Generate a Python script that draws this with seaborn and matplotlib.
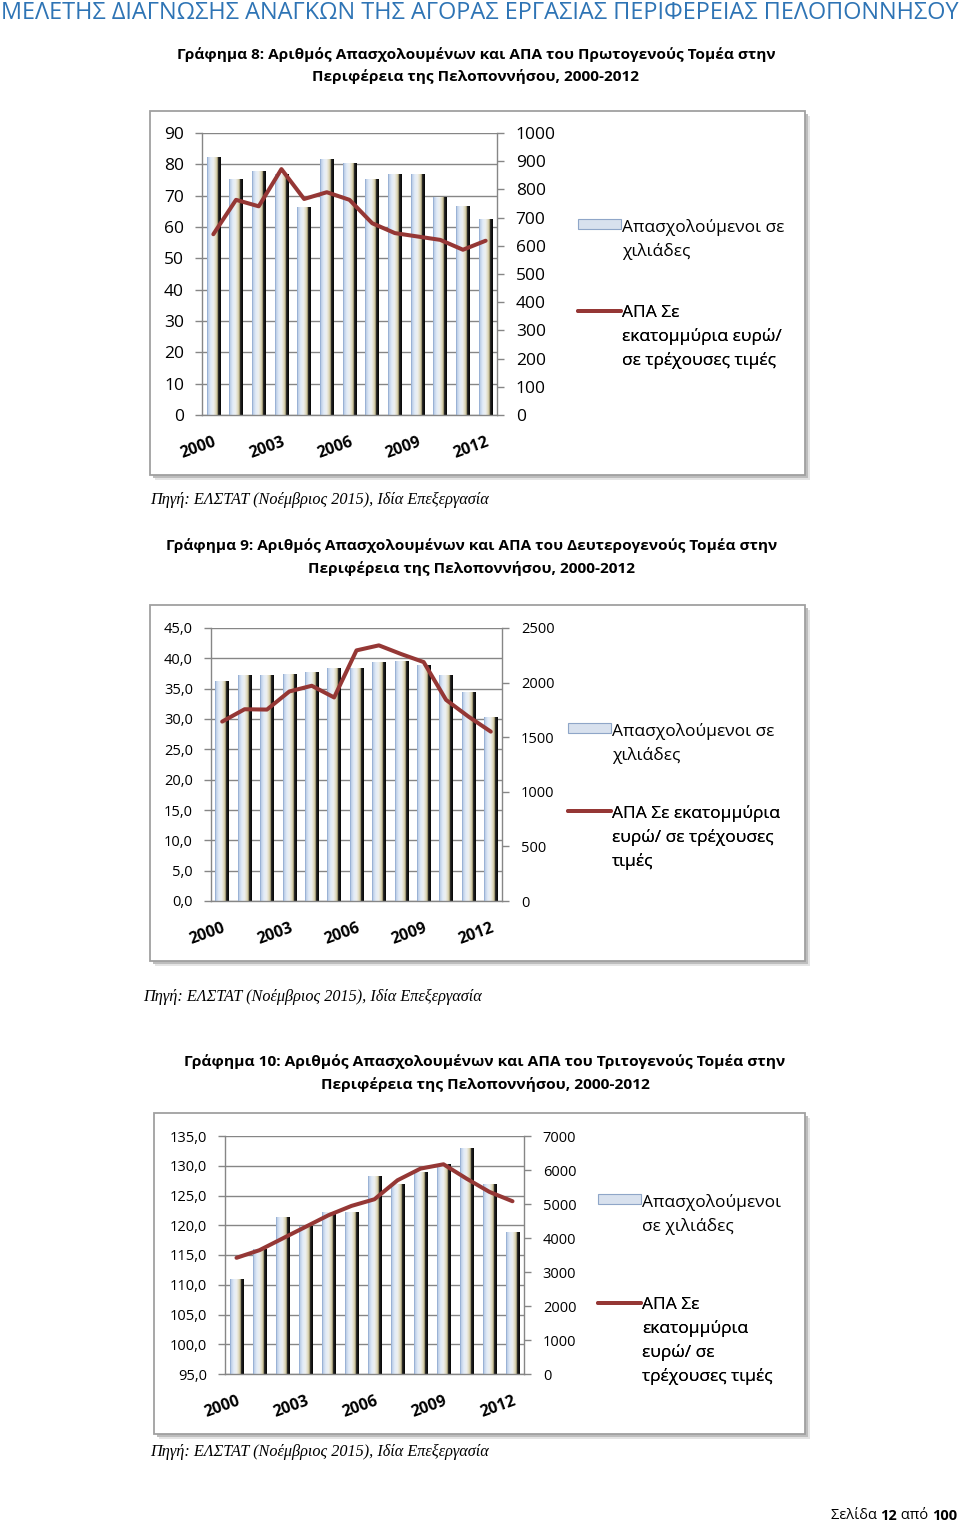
import numpy as np
import pandas as pd
import matplotlib
matplotlib.use("Agg")
import matplotlib.pyplot as plt
import seaborn as sns
from matplotlib.patches import Rectangle, Patch
from matplotlib.lines import Line2D
from matplotlib.ticker import MultipleLocator, FuncFormatter

# ---------------- data ----------------
years = [str(y) for y in range(2000, 2013)]
label_years = ["2000", "2003", "2006", "2009", "2012"]

employed_primary = [82.2, 75.3, 77.7, 76.7, 66.3, 81.5, 80.4, 75.1, 76.6, 76.9, 69.5, 66.6, 62.5]
gva_primary = [641, 763, 740, 872, 766, 790, 763, 680, 645, 633, 621, 586, 618]

employed_secondary = [36.2, 37.1, 37.1, 37.4, 37.6, 38.3, 38.4, 39.3, 39.5, 38.8, 37.1, 34.3, 30.3]
gva_secondary = [1643, 1756, 1753, 1919, 1971, 1864, 2295, 2341, 2261, 2188, 1842, 1689, 1551]

employed_tertiary = [110.8, 116.0, 121.3, 119.8, 122.1, 122.2, 128.2, 126.8, 128.8, 130.2, 132.9, 126.8, 118.7]
gva_tertiary = [3417, 3642, 3985, 4327, 4670, 4944, 5140, 5698, 6041, 6168, 5747, 5355, 5081]

header = "ΜΕΛΕΤΗΣ ΔΙΑΓΝΩΣΗΣ ΑΝΑΓΚΩΝ ΤΗΣ ΑΓΟΡΑΣ ΕΡΓΑΣΙΑΣ ΠΕΡΙΦΕΡΕΙΑΣ ΠΕΛΟΠΟΝΝΗΣΟΥ"
titles = [
    ("Γράφημα 8: Αριθμός Απασχολουμένων και ΑΠΑ του Πρωτογενούς Τομέα στην",
     "Περιφέρεια της Πελοποννήσου, 2000-2012"),
    ("Γράφημα 9: Αριθμός Απασχολουμένων και ΑΠΑ του Δευτερογενούς Τομέα στην",
     "Περιφέρεια της Πελοποννήσου, 2000-2012"),
    ("Γράφημα 10: Αριθμός Απασχολουμένων και ΑΠΑ του Τριτογενούς Τομέα στην",
     "Περιφέρεια της Πελοποννήσου, 2000-2012"),
]
source = "Πηγή: ΕΛΣΤΑΤ (Νοέμβριος 2015), Ιδία Επεξεργασία"
legend_bar = ["Απασχολούμενοι σε\nχιλιάδες", "Απασχολούμενοι σε\nχιλιάδες", "Απασχολούμενοι\nσε χιλιάδες"]
legend_line = ["ΑΠΑ Σε\nεκατομμύρια ευρώ/\nσε τρέχουσες τιμές",
               "ΑΠΑ Σε εκατομμύρια\nευρώ/ σε τρέχουσες\nτιμές",
               "ΑΠΑ Σε\nεκατομμύρια\nευρώ/ σε\nτρέχουσες τιμές"]
footer = ["Σελίδα ", "12", " από ", "100"]

# ---------------- style ----------------
sns.set_theme(style="white")
plt.rcParams["font.family"] = ["Open Sans", "DejaVu Sans"]
plt.rcParams["text.color"] = "black"
plt.rcParams["xtick.labelcolor"] = "black"
plt.rcParams["ytick.labelcolor"] = "black"

W, H = 960, 1523
fig = plt.figure(figsize=(W / 100, H / 100), dpi=100)
fig.patch.set_facecolor("white")

LINE_C = "#953735"
AX_C = "#868686"


def fx(px):
    return px / W


def fy(py):
    return 1 - py / H


def fit_width(txt, width_px):
    r = fig.canvas.get_renderer()
    w = txt.get_window_extent(r).width
    txt.set_fontsize(txt.get_fontsize() * width_px / w)


# gradient for the pseudo-3D bars
stops = [0.0, 0.07, 0.28, 0.48, 0.66, 0.77, 0.79, 1.0]
cols = ["#7F9BC6", "#BCCEE7", "#E3ECF8", "#EEF0EF", "#DCD6B8", "#B5AB7D", "#262626", "#050505"]
rgb = np.array([matplotlib.colors.to_rgb(c) for c in cols])
xs = np.linspace(0, 1, 80)
grad = np.stack([np.interp(xs, stops, rgb[:, k]) for k in range(3)], axis=-1)[None, :, :]


def frame(l, t, r, b):
    for off, col, z in [(5, "#E4E4E4", -3), (3, "#BDBDBD", -2)]:
        fig.add_artist(Rectangle((fx(l + off), fy(b + off)), fx(r - l), (b - t) / H,
                                 transform=fig.transFigure, facecolor=col, edgecolor="none", zorder=z))
    fig.add_artist(Rectangle((fx(l), fy(b)), fx(r - l), (b - t) / H, transform=fig.transFigure,
                             facecolor="white", edgecolor="#A0A0A0", lw=1.3, zorder=-1))


def chart(ax_px, employed, gva, ylim, ystep, y2lim, y2step, lfmt, tick_fs, leg_px, leg_labels):
    l, t, r, b = ax_px
    ax = fig.add_axes([fx(l), fy(b), fx(r - l), (b - t) / H])
    ax.set_facecolor("none")
    df = pd.DataFrame({"year": years, "employed": employed})
    sns.barplot(data=df, x="year", y="employed", ax=ax, width=0.6, color="#DCE6F2",
                saturation=1, edgecolor="none", zorder=2)
    for p in list(ax.patches):
        x0, y0, w, h = p.get_x(), p.get_y(), p.get_width(), p.get_height()
        ax.imshow(grad, extent=[x0, x0 + w, y0, y0 + h], aspect="auto",
                  interpolation="bilinear", zorder=2)
        p.set_facecolor("none")
    n = len(years)
    ax.set_xlim(-0.5, n - 0.5)
    ax.set_ylim(*ylim)
    ax.yaxis.set_major_locator(MultipleLocator(ystep))
    ax.yaxis.set_major_formatter(FuncFormatter(lfmt))
    ax.yaxis.grid(True, color=AX_C, lw=1)
    ax.set_axisbelow(True)
    ax.set_xlabel("")
    ax.set_ylabel("")
    ax.set_xticks([years.index(y) for y in label_years], labels=label_years)
    ax.set_xticks(np.arange(n + 1) - 0.5, minor=True)
    ax.tick_params(axis="x", which="major", length=0, pad=14, labelsize=11.5, labelcolor="black")
    ax.tick_params(axis="x", which="minor", length=5, width=1, color=AX_C, direction="out")
    ax.tick_params(axis="y", length=5, width=1, color=AX_C, direction="out", left=True,
                   pad=8, labelsize=tick_fs, labelcolor="black")
    for lbl in ax.get_xticklabels():
        lbl.set_fontweight("bold")
        lbl.set_rotation(20)
        lbl.set_ha("right")
        lbl.set_va("top")
        lbl.set_rotation_mode("anchor")
    for s in ["top", "right"]:
        ax.spines[s].set_visible(False)
    for s in ["left", "bottom"]:
        ax.spines[s].set_color(AX_C)
        ax.spines[s].set_linewidth(1)

    ax2 = ax.twinx()
    sns.lineplot(x=np.arange(n), y=gva, ax=ax2, color=LINE_C, lw=2.9,
                 solid_joinstyle="round", zorder=5)
    ax2.set_ylim(*y2lim)
    ax2.yaxis.set_major_locator(MultipleLocator(y2step))
    ax2.yaxis.set_major_formatter(FuncFormatter(lambda v, p: f"{v:.0f}"))
    ax2.set_ylabel("")
    ax2.tick_params(axis="y", length=5, width=1, color=AX_C, direction="out", right=True,
                    pad=8.5, labelsize=tick_fs, labelcolor="black")
    for s in ["top", "left", "bottom"]:
        ax2.spines[s].set_visible(False)
    ax2.spines["right"].set_color(AX_C)
    ax2.spines["right"].set_linewidth(1)
    ax2.set_xlim(-0.5, n - 0.5)

    handles = [Patch(facecolor="#D8E1EE", edgecolor="#8FA6C8", lw=0.8),
               Line2D([], [], color=LINE_C, lw=2.8)]
    for i, (h_, lab) in enumerate(zip(handles, leg_labels)):
        lx, ly = leg_px[i]
        leg = ax2.legend(handles=[h_], labels=[lab], loc="upper left",
                         bbox_to_anchor=(fx(lx), fy(ly)), bbox_transform=fig.transFigure,
                         frameon=False, fontsize=12.5, handlelength=2.45, handleheight=0.55,
                         handletextpad=0.1, borderpad=0, borderaxespad=0)
        for tx in leg.get_texts():
            tx.set_linespacing(1.53)
            tx.set_color("black")
        for col in leg._legend_handle_box.get_children():
            for item in col.get_children():
                item.align = "top"
        ax2.add_artist(leg)
    return ax, ax2


int_fmt = lambda v, p: f"{v:.0f}"
dec_fmt = lambda v, p: f"{v:.1f}".replace(".", ",")

# header
th = fig.text(fx(1), fy(19), header, color="#2E74B5", ha="left", va="baseline", fontsize=16)
fit_width(th, 956)

# chart frames
frame(150, 111, 805, 475)
frame(150, 605, 805, 961)
frame(154, 1113, 805, 1434)

# titles
title_pos = [(476, 55, 77, 597), (472, 546, 568, 609), (485, 1062, 1085, 596)]
for (l1, l2), (cx, y1, y2, wpx) in zip(titles, title_pos):
    t1 = fig.text(fx(cx), fy(y1), l1, ha="center", va="center", fontweight="bold", fontsize=11)
    fit_width(t1, wpx)
    fig.text(fx(cx), fy(y2), l2, ha="center", va="center", fontweight="bold",
             fontsize=t1.get_fontsize())

chart((202, 133, 497, 415), employed_primary, gva_primary, (0, 90), 10, (0, 1000), 100,
      int_fmt, 12.5, [(578, 219), (578, 305)], [legend_bar[0], legend_line[0]])
chart((211, 628, 502, 901), employed_secondary, gva_secondary, (0, 45), 5, (0, 2500), 500,
      dec_fmt, 10.5, [(568, 723), (568, 805)], [legend_bar[1], legend_line[1]])
chart((225, 1136, 524, 1374), employed_tertiary, gva_tertiary, (95, 135), 5, (0, 7000), 1000,
      dec_fmt, 10.5, [(598, 1194), (598, 1297)], [legend_bar[2], legend_line[2]])

# sources
for sx, sy in [(150, 500), (143, 997), (150, 1452)]:
    ts = fig.text(fx(sx), fy(sy), source, ha="left", va="center", style="italic",
                  family=["Liberation Serif", "DejaVu Serif"], fontsize=11)
    fit_width(ts, 340)

# footer (right-aligned chain)
prev = fig.text(fx(957), fy(1520), footer[3], ha="right", va="baseline", fontsize=10.5,
                fontweight="bold")
for part, bold in [(footer[2], False), (footer[1], True), (footer[0], False)]:
    prev = plt.annotate(part, xy=(0, 0), xycoords=prev, ha="right", va="bottom",
                        fontsize=10.5, fontweight="bold" if bold else "normal",
                        annotation_clip=False)

fig.savefig("out.png", dpi=100, facecolor="white")
